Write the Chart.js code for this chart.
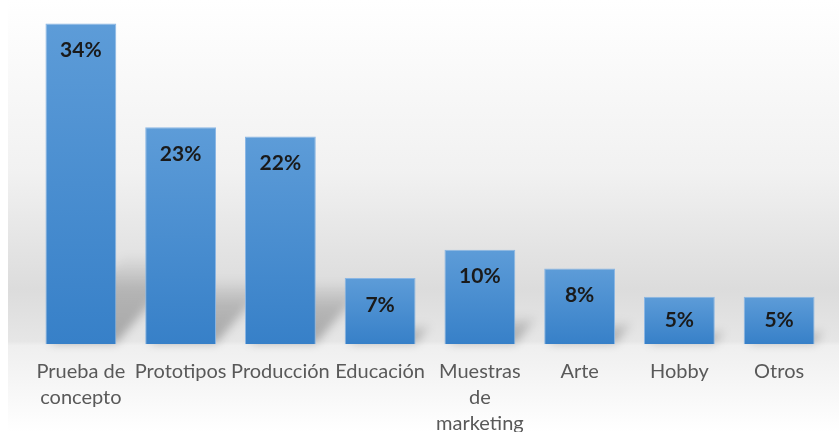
<!DOCTYPE html>
<html>
<head>
<meta charset="utf-8">
<script src="https://cdn.jsdelivr.net/npm/chart.js@4.4.1/dist/chart.umd.min.js"></script>
<style>
  body { margin: 0; background: #ffffff; }
  canvas { display: block; }
</style>
</head>
<body>
<canvas id="myChart" width="839" height="432"></canvas>
<script>
var categories = [
    ["Prueba de", "concepto"],
    "Prototipos",
    "Producción",
    "Educación",
    ["Muestras", "de", "marketing"],
    "Arte",
    "Hobby",
    "Otros"
];
var values = [34, 23, 22, 7, 10, 8, 5, 5];
var valueLabels = ["34%", "23%", "22%", "7%", "10%", "8%", "5%", "5%"];

var FONT = "Lato, 'Noto Sans', sans-serif";

// grey "wall + floor" backdrop like the Excel chart style
var backdrop = {
    id: 'backdrop',
    beforeDraw: function(chart) {
        var c = chart.ctx;
        var h = chart.height;
        var g = c.createLinearGradient(0, 0, 0, h);
        g.addColorStop(0, '#ffffff');
        g.addColorStop(0.40, '#f1f1f1');
        g.addColorStop(0.67, '#dcdcdc');
        g.addColorStop(0.79, '#e6e6e6');
        g.addColorStop(0.80, '#efefef');
        g.addColorStop(1, '#ffffff');
        c.save();
        c.fillStyle = '#ffffff';
        c.fillRect(0, 0, chart.width, h);
        c.fillStyle = g;
        c.fillRect(8, 0, chart.width - 8, h);
        c.restore();
    },
    beforeDatasetsDraw: function(chart) {
        // soft perspective shadows on the floor behind each bar
        var c = chart.ctx;
        var meta = chart.getDatasetMeta(0);
        c.save();
        c.filter = 'blur(5px)';
        meta.data.forEach(function(bar) {
            var left = bar.x - bar.width / 2;
            var right = bar.x + bar.width / 2;
            var hgt = bar.base - bar.y;
            var len = Math.min(hgt * 0.3, 90);
            var g = c.createLinearGradient(0, bar.base, 0, bar.base - len);
            g.addColorStop(0, 'rgba(0,0,0,0.28)');
            g.addColorStop(0.6, 'rgba(0,0,0,0.18)');
            g.addColorStop(1, 'rgba(0,0,0,0)');
            c.fillStyle = g;
            c.beginPath();
            c.moveTo(left + 4, bar.base - 1);
            c.lineTo(right, bar.base - 1);
            c.lineTo(right + len * 0.85, bar.base - len);
            c.lineTo(left + 4 + len * 0.85, bar.base - len);
            c.closePath();
            c.fill();
        });
        c.restore();
    },
    afterDatasetsDraw: function(chart) {
        var c = chart.ctx;
        var meta = chart.getDatasetMeta(0);
        c.save();
        c.font = "bold 21px " + FONT;
        c.fillStyle = '#1a1a1a';
        c.textAlign = 'center';
        c.textBaseline = 'middle';
        meta.data.forEach(function(bar, i) {
            var y = Math.min(bar.y + 27, (bar.y + bar.base) / 2);
            c.fillText(valueLabels[i], bar.x, y);
        });
        c.restore();
    }
};

var ctx = document.getElementById('myChart').getContext('2d');
var chart = new Chart(ctx, {

    type: 'bar',

    data: {
        labels: categories,
        datasets: [{
            data: values,
            backgroundColor: function(context) {
                var ch = context.chart;
                if (!ch.chartArea) return '#4a8fd2';
                var yScale = ch.scales.y;
                var top = yScale.getPixelForValue(values[context.dataIndex]);
                var bottom = yScale.getPixelForValue(0);
                var g = ch.ctx.createLinearGradient(0, top, 0, bottom);
                g.addColorStop(0, '#5d9cd8');
                g.addColorStop(1, '#3780c8');
                return g;
            },
            borderColor: '#8ab6e4',
            borderWidth: 1,
            barPercentage: 0.71,
            categoryPercentage: 1.0
        }]
    },

    plugins: [backdrop],

    options: {
        responsive: false,
        animation: false,
        layout: {
            padding: { left: 31, right: 10, top: 14, bottom: 0 }
        },
        plugins: {
            legend: { display: false },
            tooltip: { enabled: false }
        },
        scales: {
            x: {
                grid: { display: false, drawTicks: false },
                border: { display: false },
                ticks: {
                    autoSkip: false,
                    maxRotation: 0,
                    padding: 15,
                    color: '#595959',
                    font: { family: FONT, size: 20, lineHeight: 1.3 }
                },
                afterFit: function(scale) { scale.height = 88; }
            },
            y: {
                display: false,
                min: 0,
                max: 35
            }
        }
    }
});
</script>
</body>
</html>
